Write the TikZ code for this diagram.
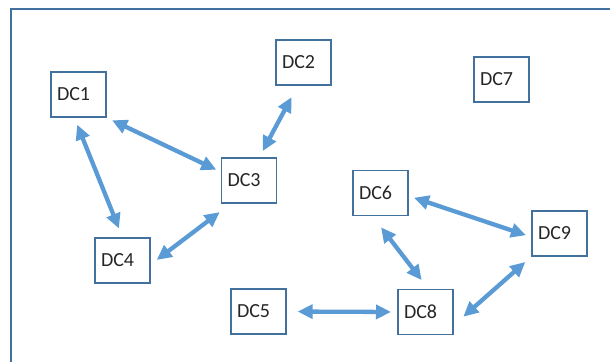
\documentclass[tikz,border=0pt]{standalone}
\usepackage{fontspec}
\setmainfont{Carlito}
\usepackage{tikz}
\usetikzlibrary{arrows.meta}
\definecolor{frame}{HTML}{41719C}
\definecolor{link}{HTML}{5B9BD5}
\definecolor{ink}{HTML}{262626}
\tikzset{
  dc/.style={draw=frame, line width=1.4pt, fill=white, text=ink,
    minimum width=55pt, minimum height=45pt, text width=43pt,
    inner xsep=6pt, inner ysep=0pt, align=left,
    font=\fontsize{20}{22}\selectfont},
  link/.style={draw=link, line width=4.3pt,
    {Triangle[length=15pt,width=14pt]}-{Triangle[length=15pt,width=14pt]}},
}

\begin{document}
\begin{tikzpicture}[x=1pt,y=-1pt]
  \useasboundingbox (0,0) rectangle (610,362);
  \draw[frame, line width=1.6pt] (11,362) -- (11,9) -- (610,9);

  % data centres
  \node[dc] (DC1) at (78.5,94.5)  {DC1};
  \node[dc] (DC2) at (303.5,62.5) {DC2};
  \node[dc] (DC3) at (249,180.5)  {DC3};
  \node[dc] (DC4) at (122.5,260.5) {DC4};
  \node[dc] (DC5) at (258.5,311.5) {DC5};
  \node[dc] (DC6) at (380.5,193)  {DC6};
  \node[dc] (DC7) at (501.5,79.5) {DC7};
  \node[dc] (DC8) at (425.5,312)  {DC8};
  \node[dc] (DC9) at (559.5,233.5) {DC9};

  % links
  \draw[link, shorten <=6pt, shorten >=5pt] (DC1.south east) -- (DC3.163);
  \draw[link, shorten <=7.5pt, shorten >=9.5pt] (DC1.260) -- (DC4.north);
  \draw[link, shorten <=13pt, shorten >=7pt] (DC2.256) -- (DC3.66);
  \draw[link, shorten <=14pt, shorten >=7.5pt] (DC3.232) -- (DC4.-8);
  \draw[link, shorten <=5.6pt, shorten >=5.6pt] (DC6.-6) -- (DC9.187);
  \draw[link, shorten <=14pt, shorten >=11pt] (DC6.251) -- (DC8.83);
  \draw[link, shorten <=11pt, shorten >=6.3pt] (DC5.east) -- (DC8.west);
  \draw[link, shorten <=12.8pt, shorten >=8pt] (DC8.-25) -- (DC9.south west);
\end{tikzpicture}
\end{document}
